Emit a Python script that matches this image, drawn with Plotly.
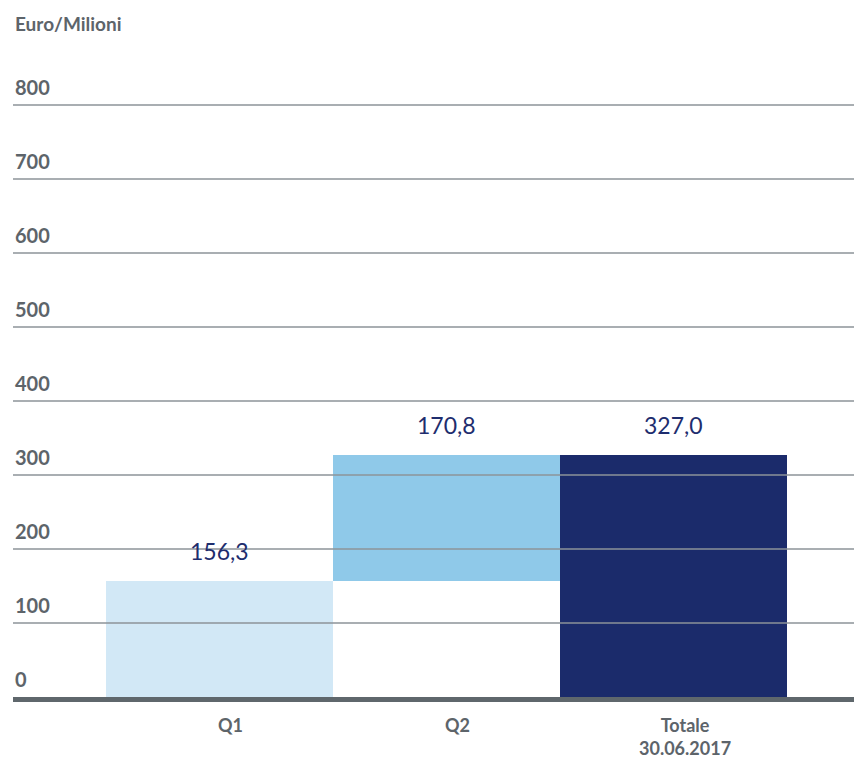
import plotly.graph_objects as go

# Waterfall-style breakdown of the half-year total (Euro/Milioni)
categories = ["Q1", "Q2", "Totale<br>30.06.2017"]
values = [156.3, 170.8, 327.0]
is_total = [False, False, True]
bar_colors = ["#d2e8f6", "#8fc9e9", "#1b2b6b"]
y_ticks = [0, 100, 200, 300, 400, 500, 600, 700, 800]
y_title = "Euro/Milioni"

GRAY = "#5d646a"
NAVY = "#1e2d6e"
FONT = "Lato"

# floating bases: increments stack on the running sum, totals start at 0
bases, running = [], 0.0
for v, tot in zip(values, is_total):
    if tot:
        bases.append(0.0)
    else:
        bases.append(running)
        running += v

x_idx = list(range(len(categories)))

fig = go.Figure(
    go.Bar(
        x=x_idx,
        y=values,
        base=bases,
        width=1.0,
        marker=dict(color=bar_colors, line=dict(width=0)),
        hoverinfo="skip",
    )
)

W, H = 854, 760
left_px = 13  # where the grid and tick labels start

shapes = []
for t in y_ticks[1:]:
    shapes.append(dict(
        type="line", xref="paper", yref="y",
        x0=left_px / W, x1=1, y0=t, y1=t,
        line=dict(color="#8d9398", width=1.5), layer="above",
    ))
# heavy baseline under the bars
shapes.append(dict(
    type="rect", xref="paper", yref="y",
    x0=left_px / W, x1=1,
    ysizemode="pixel", yanchor=0, y0=-5, y1=0,
    fillcolor="#5f676c", line=dict(width=0), layer="above",
))

annotations = []
# y tick labels, sitting above their grid lines
for t in y_ticks:
    annotations.append(dict(
        xref="paper", yref="y", x=left_px / W, y=t,
        xanchor="left", yanchor="middle", yshift=18,
        text=str(t), showarrow=False,
        font=dict(family=FONT, size=20, color=GRAY, weight="bold"),
    ))
# axis unit title
annotations.append(dict(
    xref="paper", yref="paper", x=left_px / W, y=1,
    xanchor="left", yanchor="bottom", yshift=3,
    text=y_title, showarrow=False,
    font=dict(family=FONT, size=19, color=GRAY, weight="bold"),
))
# value labels above each bar
for i, (v, b) in enumerate(zip(values, bases)):
    annotations.append(dict(
        x=i, y=b + v, xref="x", yref="y",
        xanchor="center", yanchor="middle", yshift=30,
        text=f"{v:.1f}".replace(".", ","), showarrow=False,
        font=dict(family=FONT, size=23, color=NAVY),
    ))
# category labels below the baseline
for i, c in enumerate(categories):
    annotations.append(dict(
        x=i, y=0, xref="x", yref="y",
        xanchor="center", yanchor="top", yshift=-16, xshift=11,
        borderpad=0,
        text=c, showarrow=False,
        font=dict(family=FONT, size=18, color=GRAY, weight="bold"),
    ))

# pixel mapping: 0 at y=697, 74 px per 100 units; bars 227 px wide starting at x=106
px_per_unit_y = 0.74
plot_top, plot_bottom = 40, 712
zero_px = 697
y_range = [-(plot_bottom - zero_px) / px_per_unit_y, (zero_px - plot_top) / px_per_unit_y]
bar_px = 227
first_left = 106
x_range = [-0.5 - first_left / bar_px, -0.5 + (W - first_left) / bar_px]

fig.update_layout(
    width=W, height=H,
    margin=dict(l=0, r=0, t=plot_top, b=H - plot_bottom),
    paper_bgcolor="white", plot_bgcolor="white",
    bargap=0, showlegend=False,
    xaxis=dict(range=x_range, visible=False, fixedrange=True),
    yaxis=dict(range=y_range, visible=False, fixedrange=True),
    shapes=shapes, annotations=annotations,
)

fig.write_html("out.html")
